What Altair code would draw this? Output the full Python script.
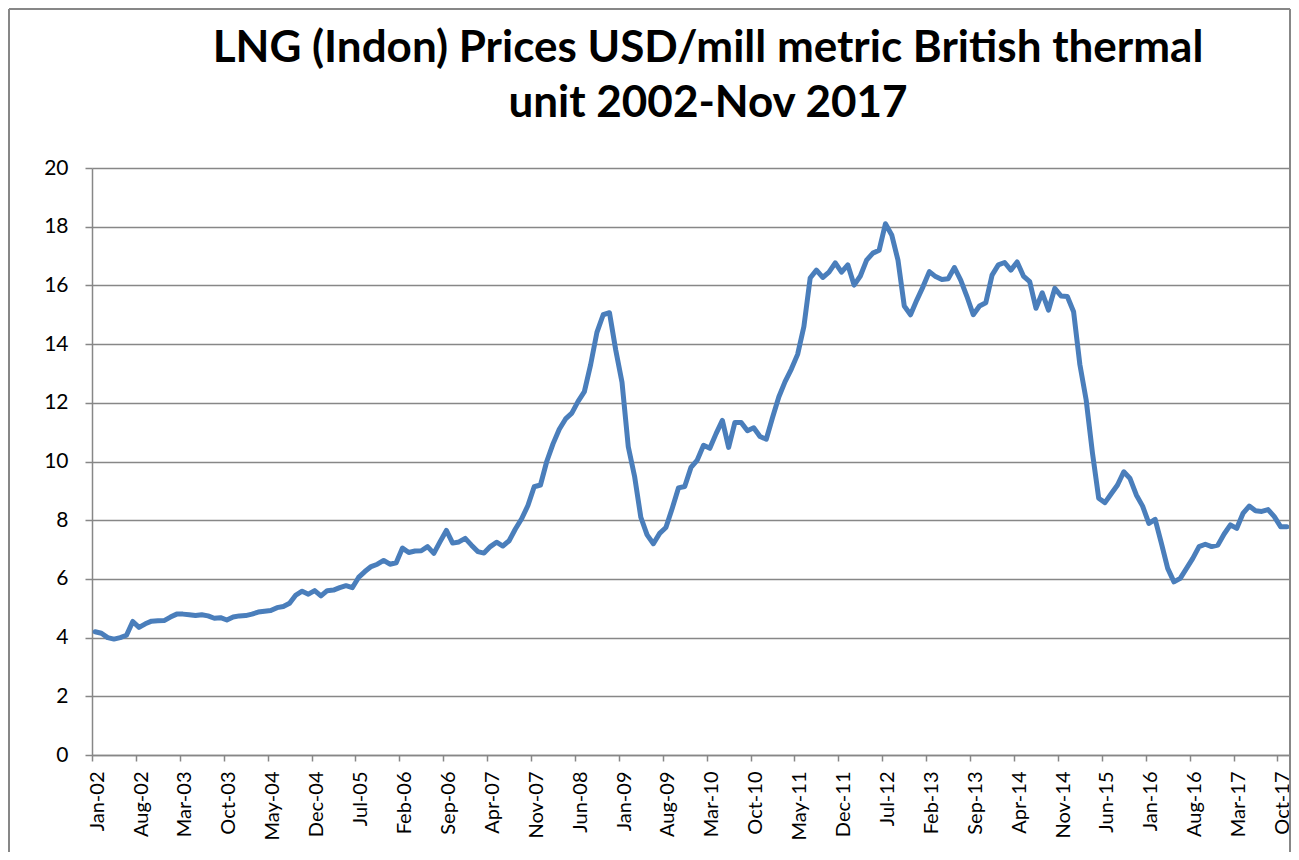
import altair as alt
import pandas as pd

TITLE_1 = "LNG (Indon) Prices USD/mill metric British thermal"
TITLE_2 = "unit 2002-Nov 2017"

month_names = ["Jan", "Feb", "Mar", "Apr", "May", "Jun",
               "Jul", "Aug", "Sep", "Oct", "Nov", "Dec"]
years = list(range(2002, 2018))

p2002 = [4.2, 4.15, 4.0, 3.95, 4.0, 4.08, 4.55, 4.35, 4.47, 4.56, 4.57, 4.58]
p2003 = [4.7, 4.8, 4.8, 4.78, 4.75, 4.78, 4.74, 4.66, 4.68, 4.6, 4.7, 4.74]
p2004 = [4.75, 4.8, 4.87, 4.9, 4.92, 5.02, 5.06, 5.17, 5.45, 5.58, 5.48, 5.6]
p2005 = [5.42, 5.6, 5.62, 5.7, 5.77, 5.7, 6.05, 6.25, 6.42, 6.5, 6.63, 6.5]
p2006 = [6.55, 7.05, 6.9, 6.95, 6.96, 7.1, 6.87, 7.27, 7.65, 7.22, 7.26, 7.38]
p2007 = [7.15, 6.93, 6.88, 7.1, 7.25, 7.12, 7.3, 7.7, 8.05, 8.5, 9.14, 9.2]
p2008 = [10.0, 10.6, 11.1, 11.45, 11.65, 12.05, 12.38, 13.3, 14.4, 15.0, 15.07, 13.8]
p2009 = [12.7, 10.5, 9.5, 8.1, 7.5, 7.2, 7.55, 7.75, 8.4, 9.1, 9.15, 9.8]
p2010 = [10.05, 10.55, 10.45, 10.95, 11.4, 10.48, 11.33, 11.33, 11.05, 11.15, 10.85, 10.76]
p2011 = [11.5, 12.2, 12.72, 13.15, 13.65, 14.6, 16.25, 16.52, 16.27, 16.45, 16.77, 16.45]
p2012 = [16.7, 16.01, 16.32, 16.86, 17.1, 17.2, 18.1, 17.72, 16.86, 15.3, 15.0, 15.5]
p2013 = [15.96, 16.47, 16.3, 16.2, 16.23, 16.61, 16.18, 15.62, 15.0, 15.3, 15.41, 16.35]
p2014 = [16.7, 16.78, 16.52, 16.8, 16.32, 16.13, 15.22, 15.75, 15.16, 15.9, 15.64, 15.62]
p2015 = [15.1, 13.3, 12.1, 10.3, 8.75, 8.6, 8.9, 9.2, 9.65, 9.42, 8.86, 8.48]
p2016 = [7.89, 8.03, 7.21, 6.36, 5.9, 6.02, 6.36, 6.7, 7.1, 7.18, 7.1, 7.15]
p2017 = [7.53, 7.84, 7.72, 8.23, 8.48, 8.32, 8.3, 8.36, 8.12, 7.78, 7.78]

yearly = [p2002, p2003, p2004, p2005, p2006, p2007, p2008, p2009,
          p2010, p2011, p2012, p2013, p2014, p2015, p2016, p2017]

tick_labels = ["Jan-02", "Aug-02", "Mar-03", "Oct-03", "May-04", "Dec-04", "Jul-05",
               "Feb-06", "Sep-06", "Apr-07", "Nov-07", "Jun-08", "Jan-09", "Aug-09",
               "Mar-10", "Oct-10", "May-11", "Dec-11", "Jul-12", "Feb-13", "Sep-13",
               "Apr-14", "Nov-14", "Jun-15", "Jan-16", "Aug-16", "Mar-17", "Oct-17"]
y_ticks = [0, 2, 4, 6, 8, 10, 12, 14, 16, 18, 20]

rows = []
idx = 0
for yr, series in zip(years, yearly):
    for m, v in enumerate(series):
        rows.append({"idx": idx, "month": f"{month_names[m]}-{str(yr)[2:]}", "price": v})
        idx += 1
df = pd.DataFrame(rows)
n = len(df)

W, H = 1198, 587
FONT = "Lato"
GRID = "#878787"

x_scale = alt.Scale(domain=[-0.5, n - 0.5], nice=False, zero=False)
y_scale = alt.Scale(domain=[0, 20], nice=False, zero=True)
label_vals = [i * 7 for i in range(len(tick_labels))]
tick_vals = [i * 7 - 0.5 for i in range(len(tick_labels))]
label_expr = "[" + ",".join(f"'{t}'" for t in tick_labels) + "][round(datum.value / 7)]"

y_axis = alt.Axis(
    values=y_ticks, grid=True, gridColor=GRID, gridWidth=1.5,
    domain=True, domainColor=GRID, domainWidth=1.5,
    ticks=True, tickColor=GRID, tickWidth=1.5, tickSize=7,
    labelFont=FONT, labelFontSize=21, labelColor="#000000", labelPadding=17,
    title=None)

tick_layer = alt.Chart(df).mark_line(opacity=0).encode(
    x=alt.X("idx:Q", scale=x_scale, axis=alt.Axis(
        orient="bottom", values=tick_vals, labels=False, ticks=True, tickSize=6,
        tickColor=GRID, tickWidth=1.5, domain=True, domainColor=GRID, domainWidth=1.5,
        grid=False, title=None)),
    y=alt.Y("price:Q", scale=y_scale, axis=y_axis),
)

line = alt.Chart(df).mark_line(
    color="#4a7ebb", strokeWidth=5, strokeJoin="round", strokeCap="round"
).encode(
    x=alt.X("idx:Q", scale=x_scale, axis=alt.Axis(
        orient="bottom", values=label_vals, labelExpr=label_expr, labelAngle=270,
        labelAlign="right", labelBaseline="middle", labelOffset=2,
        ticks=False, domain=False, grid=False, title=None,
        labelFont=FONT, labelFontSize=20, labelColor="#000000", labelPadding=16,
        labelOverlap=False, labelFlush=False)),
    y=alt.Y("price:Q", scale=y_scale, axis=y_axis),
)

one = pd.DataFrame({"k": [0]})
frame_top = alt.Chart(one).mark_rule(color=GRID, strokeWidth=2).encode(
    x=alt.value(-83), x2=alt.value(W), y=alt.value(-159))
frame_left = alt.Chart(one).mark_rule(color=GRID, strokeWidth=2).encode(
    x=alt.value(-83), y=alt.value(-159), y2=alt.value(700))
frame_right = alt.Chart(one).mark_rule(color=GRID, strokeWidth=2).encode(
    x=alt.value(W), y=alt.value(-159), y2=alt.value(700))

title_df_1 = pd.DataFrame({"t": [TITLE_1]})
title_df_2 = pd.DataFrame({"t": [TITLE_2]})
title_1 = alt.Chart(title_df_1).mark_text(
    font=FONT, fontSize=44, fontWeight="bold", color="#000000",
    align="center", baseline="alphabetic").encode(
    text="t:N", x=alt.value(616), y=alt.value(-106))
title_2 = alt.Chart(title_df_2).mark_text(
    font=FONT, fontSize=44, fontWeight="bold", color="#000000",
    align="center", baseline="alphabetic").encode(
    text="t:N", x=alt.value(616), y=alt.value(-51))

chart = alt.layer(
    tick_layer, line, frame_top, frame_left, frame_right, title_1, title_2
).resolve_axis(
    x="independent"
).properties(
    width=W, height=H,
    autosize=alt.AutoSizeParams(type="none"),
    padding={"left": 84, "top": 160, "right": 1, "bottom": 97},
    background="white",
).configure_view(stroke=None)

chart.save("out.html", embed_options={"renderer": "svg", "actions": False})
